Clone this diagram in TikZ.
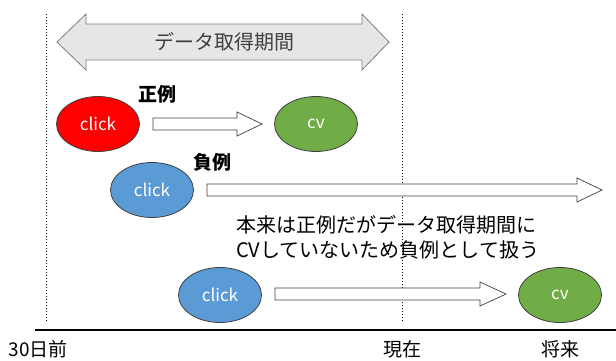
\documentclass[tikz,border=0pt]{standalone}
\usepackage{fontspec}
\setmainfont{Noto Sans CJK JP}
\usetikzlibrary{shapes.geometric}
\definecolor{redfill}{HTML}{FF0000}
\definecolor{greenfill}{HTML}{70AD47}
\definecolor{bluefill}{HTML}{5B9BD5}
\definecolor{edgegray}{HTML}{404040}
\definecolor{bandfill}{HTML}{E7E6E6}
\definecolor{bandedge}{HTML}{7F7F7F}
\tikzset{
  oval/.style={ellipse, draw=edgegray, line width=0.8pt, minimum width=83pt, minimum height=55pt, inner sep=0pt, text=white, font=\fontsize{17}{17}\selectfont},
  cvoval/.style={oval, font=\fontsize{17}{17}\selectfont},
  blockarrow/.style={draw=edgegray, fill=white, line width=0.7pt, line join=miter},
  band/.style={draw=bandedge, fill=bandfill, line width=0.8pt},
  guide/.style={dotted, line width=1pt, black},
  lbl/.style={font=\fontsize{19}{19}\selectfont\bfseries, inner sep=0pt},
  note/.style={font=\fontsize{20}{25}\selectfont, align=left, inner sep=0pt},
  axislbl/.style={font=\fontsize{19}{19}\selectfont, inner sep=0pt}
}
\begin{document}
\begin{tikzpicture}[x=1pt, y=-1pt]
\useasboundingbox (0,0) rectangle (616,360);
% guide lines
\coordinate (g1t) at (46,14); \coordinate (g1b) at (46,322);
\coordinate (g2t) at (402,14); \coordinate (g2b) at (402,322);
\draw[guide] (g1t) -- (g1b);
\draw[guide] (g2t) -- (g2b);
% period band (double arrow)
\draw[band] (57,42) -- (86,14) -- (86,24) -- (362,24) -- (362,14) -- (389,42)
  -- (362,70) -- (362,60) -- (86,60) -- (86,70) -- cycle;
\node[font=\fontsize{20}{20}\selectfont, text=edgegray, inner sep=0pt] (band) at (224,42) {データ取得期間};
% row 1
\node[oval, fill=redfill] (c1) at (98,124) {click};
\node[cvoval, fill=greenfill] (v1) at (316,124) {cv};
\node[lbl] (pos) at (157,94) {正例};
\draw[blockarrow] (153,118) -- (237,118) -- (237,112) -- (262,124) -- (237,136) -- (237,130) -- (153,130) -- cycle;
% row 2
\node[oval, fill=bluefill] (c2) at (152,190) {click};
\node[lbl] (neg) at (212,162) {負例};
\draw[blockarrow] (207,184) -- (577,184) -- (577,178) -- (602,190) -- (577,202) -- (577,196) -- (207,196) -- cycle;
\node[note, anchor=north west] (note) at (236,215) {本来は正例だがデータ取得期間に\\CVしていないため負例として扱う};
% row 3
\node[oval, fill=bluefill] (c3) at (220,295) {click};
\node[cvoval, fill=greenfill] (v3) at (560,295) {cv};
\draw[blockarrow] (275,288) -- (480,288) -- (480,282) -- (506,294) -- (480,306) -- (480,300) -- (275,300) -- cycle;
% time axis
\coordinate (ax1) at (35,330); \coordinate (ax2) at (616,330);
\draw[line width=1.5pt, black] (ax1) -- (ax2);
\node[axislbl] (t0) at (38,349) {30日前};
\node[axislbl] (t1) at (402,349) {現在};
\node[axislbl] (t2) at (560,349) {将来};
\end{tikzpicture}
\end{document}
